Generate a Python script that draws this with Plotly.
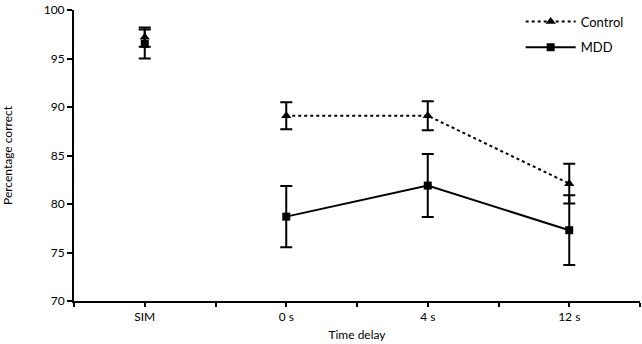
import plotly.graph_objects as go

categories = ["SIM", "0 s", "4 s", "12 s"]
control_mean = [97.2, 89.1, 89.1, 82.1]
control_err = [1.0, 1.4, 1.5, 2.05]
mdd_mean = [96.5, 78.7, 81.9, 77.3]
mdd_err = [1.5, 3.15, 3.25, 3.6]
y_ticks = [70, 75, 80, 85, 90, 95, 100]

xpos = [i + 0.5 for i in range(len(categories))]
FONT = "Lato, 'DejaVu Sans', sans-serif"

fig = go.Figure()
# SIM points (no connecting lines)
fig.add_trace(go.Scatter(
    x=xpos[:1], y=mdd_mean[:1], mode="markers", showlegend=False,
    marker=dict(symbol="square", size=8, color="black"),
    error_y=dict(type="data", array=mdd_err[:1], color="black", thickness=2, width=6)))
fig.add_trace(go.Scatter(
    x=xpos[:1], y=control_mean[:1], mode="markers", showlegend=False,
    marker=dict(symbol="triangle-up", size=9, color="black"),
    error_y=dict(type="data", array=control_err[:1], color="black", thickness=2, width=6)))
# Delay conditions
fig.add_trace(go.Scatter(
    x=xpos[1:], y=control_mean[1:], mode="lines+markers", name="Control",
    legendgroup="c",
    line=dict(color="black", width=2, dash="dot"),
    marker=dict(symbol="triangle-up", size=9, color="black"),
    error_y=dict(type="data", array=control_err[1:], color="black", thickness=2, width=6)))
fig.add_trace(go.Scatter(
    x=xpos[1:], y=mdd_mean[1:], mode="lines+markers", name="MDD",
    legendgroup="m",
    line=dict(color="black", width=2),
    marker=dict(symbol="square", size=8, color="black"),
    error_y=dict(type="data", array=mdd_err[1:], color="black", thickness=2, width=6)))

tickvals = [i * 0.5 for i in range(2 * len(categories) + 1)]
ticktext = []
for v in tickvals:
    if abs(v - round(v)) > 0.1:
        ticktext.append(categories[int(v)])
    else:
        ticktext.append("")

fig.update_layout(
    width=642, height=344,
    margin=dict(l=64, r=2, t=9, b=43),
    paper_bgcolor="white", plot_bgcolor="white",
    font=dict(family=FONT, size=12, color="black"),
    legend=dict(x=0.98, xanchor="right", y=1.012, yanchor="top",
                bgcolor="rgba(0,0,0,0)", font=dict(size=13), tracegroupgap=6,
                itemwidth=50),
    xaxis=dict(range=[0, 4], tickvals=tickvals, ticktext=ticktext,
               showgrid=False, zeroline=False, showline=True, linecolor="black",
               linewidth=2, ticks="outside", ticklen=4, tickwidth=2, tickcolor="black",
               title=dict(text="Time delay", standoff=7, font=dict(size=12))),
    yaxis=dict(range=[70, 100], tickvals=y_ticks,
               showgrid=False, zeroline=False, showline=True, linecolor="black",
               linewidth=2, ticks="outside", ticklen=5, tickwidth=2, tickcolor="black",
               title=dict(text="Percentage correct", standoff=33, font=dict(size=12))),
)
fig.write_html("out.html", config={"displayModeBar": False},
               post_script="document.body.style.margin='0';")
